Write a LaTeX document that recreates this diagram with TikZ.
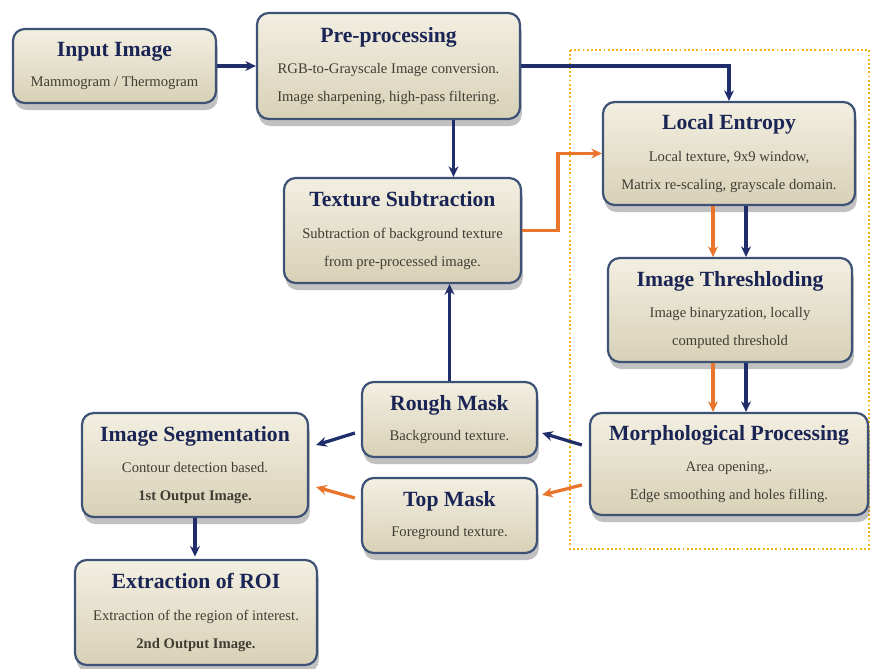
\documentclass[tikz,border=0pt]{standalone}
\usepackage{fontspec}
\setmainfont{Liberation Serif}
\usetikzlibrary{calc}
\usetikzlibrary{shadows}
\usetikzlibrary{arrows.meta}

\definecolor{boxedge}{HTML}{3E5275}
\definecolor{boxtop}{HTML}{F3EFE1}
\definecolor{boxbottom}{HTML}{D8D1B7}
\definecolor{titleblue}{HTML}{1A2555}
\definecolor{bodygray}{HTML}{403D33}
\definecolor{arrowblue}{HTML}{1F2E6B}
\definecolor{arroworange}{HTML}{E8752B}
\definecolor{framegold}{HTML}{F2B417}

\newcommand{\blocktitle}[1]{{\fontsize{18.5}{20}\selectfont\bfseries\color{titleblue}#1}}

\begin{document}
\begin{tikzpicture}[x=0.03cm, y=-0.03cm,
    block/.style={draw=boxedge, line width=1.9pt, rounded corners=10pt, top color=boxtop, bottom color=boxbottom, drop shadow={shadow xshift=1.5pt, shadow yshift=-6pt, opacity=0.35, fill=black!70}, align=center, inner sep=2pt, text=bodygray, font=\fontsize{12.5}{24}\selectfont},
    bluearrow/.style={-{Stealth[length=9pt, width=8.5pt]}, line width=2.8pt, draw=arrowblue},
    orangearrow/.style={-{Stealth[length=9pt, width=8.5pt]}, line width=2.8pt, draw=arroworange}]
    \useasboundingbox (0,0) rectangle (872,668);

    % dotted frame round the texture stages
    \draw [framegold, dotted, line width=1.6pt] (570,50) rectangle (869,549);

    \node [block, minimum width=6.09cm, minimum height=2.22cm] (input) at (114.5,66) {\blocktitle{Input Image}\\[2pt] Mammogram / Thermogram};
    \node [block, minimum width=7.89cm, minimum height=3.18cm] (pre) at (388.5,66) {\blocktitle{Pre-processing}\\[3pt] RGB-to-Grayscale Image conversion.\\ Image sharpening, high-pass filtering.};
    \node [block, minimum width=7.11cm, minimum height=3.15cm] (texsub) at (402.5,230.5) {\blocktitle{Texture Subtraction}\\[3pt] Subtraction of background texture\\ from pre-processed image.};
    \node [block, minimum width=7.56cm, minimum height=3.09cm] (entropy) at (729,153.5) {\blocktitle{Local Entropy}\\[3pt] Local texture, 9x9 window,\\ Matrix re-scaling, grayscale domain.};
    \node [block, minimum width=7.32cm, minimum height=3.12cm] (thresh) at (730,310) {\blocktitle{Image Threshloding}\\[3pt] Image binaryzation, locally\\ computed threshold};
    \node [block, minimum width=8.34cm, minimum height=3.06cm] (morph) at (729,464) {\blocktitle{Morphological Processing}\\[3pt] Area opening,.\\ Edge smoothing and holes filling.};
    \node [block, minimum width=5.25cm, minimum height=2.25cm] (rough) at (449.5,419.5) {\blocktitle{Rough Mask}\\[2pt] Background texture.};
    \node [block, minimum width=5.25cm, minimum height=2.25cm] (top) at (449.5,515.5) {\blocktitle{Top Mask}\\[2pt] Foreground texture.};
    \node [block, minimum width=6.78cm, minimum height=3.12cm] (segment) at (195,465) {\blocktitle{Image Segmentation}\\[3pt] Contour detection based.\\ \textbf{1st Output Image.}};
    \node [block, minimum width=7.26cm, minimum height=3.15cm] (roi) at (196,612.5) {\blocktitle{Extraction of ROI}\\[3pt] Extraction of the region of interest.\\ \textbf{2nd Output Image.}};

    \coordinate (preout) at ($(pre.south)+(65,0)$);
    \coordinate (entorange) at ($(entropy.south)+(-16,0)$);
    \coordinate (entblue) at ($(entropy.south)+(17,0)$);
    \coordinate (throrange) at ($(thresh.south)+(-17,0)$);
    \coordinate (thrblue) at ($(thresh.south)+(16,0)$);

    \draw [bluearrow] (input) -- (input -| pre.west);
    \draw [bluearrow] (pre.east) -| (entropy.north);
    \draw [bluearrow] (preout) -- (preout |- texsub.north);
    \draw [orangearrow] (texsub.east) -- ++(36,0) |- (entropy.west);
    \draw [orangearrow] (entorange) -- (entorange |- thresh.north);
    \draw [bluearrow] (entblue) -- (entblue |- thresh.north);
    \draw [orangearrow] (throrange) -- (throrange |- morph.north);
    \draw [bluearrow] (thrblue) -- (thrblue |- morph.north);
    \draw [bluearrow] ($(morph.west)+(-7,-19)$) -- ($(rough.east)+(4,13.5)$);
    \draw [orangearrow] ($(morph.west)+(-7,21)$) -- ($(top.east)+(4,-20.5)$);
    \draw [bluearrow] ($(rough.west)+(-6,13.5)$) -- ($(segment.east)+(7,-20)$);
    \draw [orangearrow] ($(top.west)+(-6,-17.5)$) -- ($(segment.east)+(7,22)$);
    \draw [bluearrow] (rough.north) -- (rough.north |- texsub.south);
    \draw [bluearrow, shorten >=2pt] (segment.south) -- (segment.south |- roi.north);
\end{tikzpicture}
\end{document}
